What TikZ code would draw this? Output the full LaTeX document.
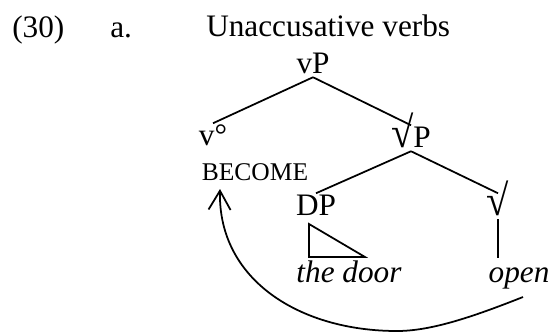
\documentclass[tikz,border=0pt]{standalone}
\usepackage{fontspec}
\usepackage{graphicx}
\setmainfont{Liberation Serif}
\usetikzlibrary{arrows.meta}
% a taller, wider root sign than the one the font gives
\newcommand\rt{\scalebox{1.3}[1.4]{√}}
\tikzset{
  lbl/.style={anchor=base, inner sep=1.5pt, text height=7pt, text depth=0pt,
    font=\fontsize{12.5}{15}\selectfont},
  leaf/.style={lbl, text height=8pt, font=\fontsize{12.5}{15}\selectfont\itshape},
  branch/.style={line width=.7pt},
}
\begin{document}
\begin{tikzpicture}[x=.4pt, y=-.4pt]
\useasboundingbox (0,0) rectangle (552,333);
% heading
\node[lbl, anchor=base west] (num) at (8,37) {(30)};
\node[lbl, anchor=base west] (item) at (106,37) {a.};
\node[lbl, anchor=base west] (title) at (202,36) {Unaccusative verbs};
% tree
\node[lbl] (vP) at (313,73) {vP};
\node[lbl] (vo) at (213,145) {v°};
\node[lbl] (rootP) at (411,147) {\rt P};
\node[lbl, font=\fontsize{10.2}{12}\selectfont] (become) at (255,180) {BECOME};
\node[lbl] (DP) at (316,215) {DP};
\node[lbl] (root) at (498,215) {\rt};
\node[leaf] (door) at (349,282) {the door};
\node[leaf] (open) at (519,282) {open};
\draw[branch] (vP.south) -- (vo.north);
\draw[branch] (vP.south) -- (rootP.north);
\draw[branch] (rootP.south) -- (DP.north);
\draw[branch] (rootP.south) -- (root.north);
\draw[branch] (root.south) -- (root.south |- open.north);
\draw[branch] (309,224) -- (309,257) -- (365,257) -- cycle;
% head movement
\coordinate (mvfrom) at (523,297);
\coordinate (mvto) at (220,189);
\draw[branch, -{Straight Barb[length=7.6pt, width=8.8pt]}] (mvfrom)
  .. controls (470,318) and (430,331) .. (397,331)
  .. controls (300,331) and (218,280) .. (mvto);
\end{tikzpicture}
\end{document}
